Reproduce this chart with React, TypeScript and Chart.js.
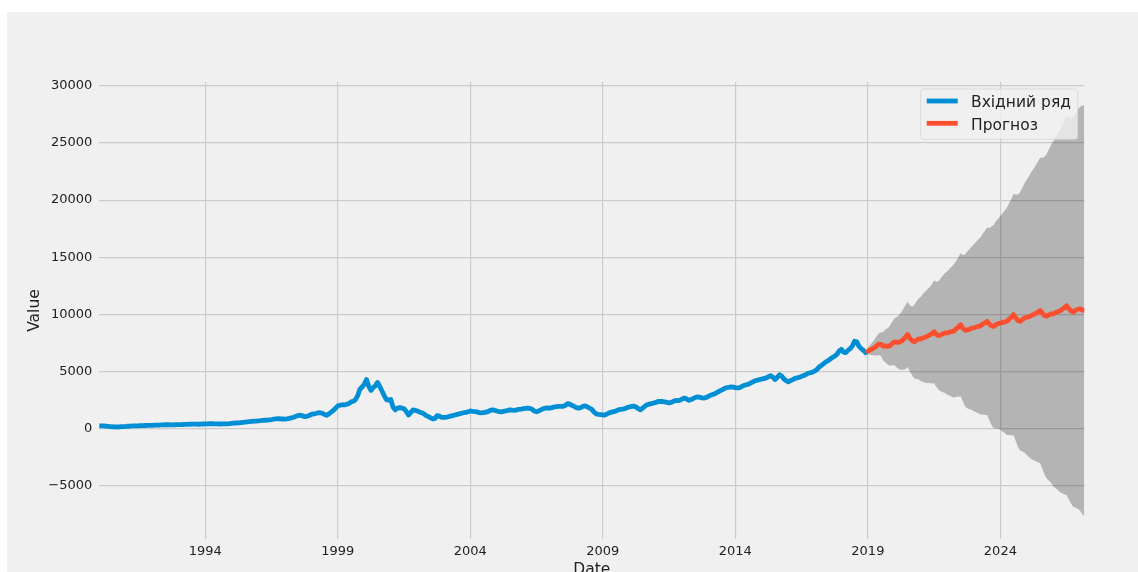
import { useEffect, useRef } from "react";
import { Chart, registerables } from "chart.js";

Chart.register(...registerables);

// Monthly observations, January 1990 – December 2018 (one row per year)
const observedStartYear = 1990;
const observedMonthly: number[] = [
  240, 250, 245, 230, 210, 190, 170, 155, 150, 160, 175, 190,
  200, 215, 230, 240, 250, 255, 260, 270, 275, 280, 285, 290,
  300, 305, 310, 320, 330, 340, 345, 350, 345, 340, 345, 355,
  360, 365, 370, 375, 380, 390, 395, 400, 395, 390, 400, 410,
  420, 430, 440, 435, 425, 420, 415, 410, 415, 420, 430, 440,
  460, 480, 500, 520, 540, 560, 580, 600, 620, 640, 660, 670,
  690, 700, 720, 740, 760, 780, 800, 830, 860, 880, 870, 850,
  830, 860, 900, 950, 1000, 1080, 1150, 1180, 1120, 1060, 1080, 1150,
  1250, 1300, 1330, 1380, 1400, 1350, 1250, 1180, 1300, 1450, 1600, 1800,
  2000, 2050, 2100, 2080, 2150, 2200, 2350, 2400, 2550, 2900, 3450, 3650,
  3900, 4300, 3700, 3350, 3600, 3750, 4050, 3700, 3300, 2900, 2550, 2500,
  2550, 1900, 1650, 1800, 1850, 1800, 1750, 1500, 1200, 1400, 1650, 1600,
  1550, 1450, 1400, 1300, 1150, 1050, 950, 850, 900, 1150, 1100, 1000,
  1000, 1000, 1050, 1100, 1150, 1200, 1250, 1300, 1350, 1400, 1420, 1480,
  1550, 1520, 1500, 1480, 1400, 1380, 1400, 1450, 1500, 1600, 1650, 1620,
  1550, 1500, 1480, 1520, 1550, 1600, 1650, 1620, 1600, 1650, 1700, 1720,
  1750, 1780, 1800, 1780, 1700, 1550, 1480, 1550, 1650, 1750, 1800, 1820,
  1800, 1850, 1900, 1940, 1950, 1950, 1950, 2050, 2200, 2150, 2050, 1950,
  1850, 1800, 1850, 1950, 2000, 1900, 1800, 1700, 1450, 1300, 1250, 1230,
  1200, 1200, 1300, 1400, 1450, 1500, 1550, 1650, 1700, 1720, 1750, 1850,
  1900, 1950, 1980, 1900, 1750, 1650, 1800, 1950, 2100, 2150, 2200, 2250,
  2300, 2380, 2400, 2380, 2350, 2300, 2250, 2300, 2400, 2480, 2450, 2500,
  2600, 2680, 2600, 2480, 2550, 2650, 2750, 2780, 2750, 2700, 2680, 2750,
  2850, 2950, 3000, 3100, 3200, 3300, 3400, 3500, 3600, 3620, 3650, 3640,
  3600, 3560, 3600, 3700, 3800, 3850, 3900, 4000, 4100, 4200, 4250, 4300,
  4350, 4380, 4450, 4550, 4640, 4500, 4300, 4500, 4720, 4600, 4350, 4200,
  4100, 4200, 4300, 4400, 4450, 4500, 4580, 4650, 4750, 4850, 4900, 4950,
  5050, 5200, 5400, 5550, 5700, 5850, 5950, 6100, 6250, 6350, 6500, 6800,
  6950, 6700, 6650, 6850, 7000, 7250, 7650, 7600, 7200, 7000, 6850, 6650,
];

// Monthly forecast, January 2019 – March 2027
const forecastStartYear = 2019;
const forecastMean: number[] = [
  6780, 6900, 6980, 7100, 7250, 7400, 7380, 7220, 7250, 7200, 7260, 7450,
  7600, 7580, 7550, 7650, 7800, 8000, 8250, 7900, 7700, 7600, 7750, 7850,
  7850, 7950, 8000, 8100, 8200, 8300, 8480, 8250, 8150, 8200, 8300, 8380,
  8380, 8450, 8500, 8550, 8750, 8900, 9100, 8800, 8600, 8650, 8700, 8800,
  8830, 8900, 8950, 9000, 9150, 9250, 9400, 9150, 9000, 8950, 9100, 9200,
  9250, 9300, 9350, 9400, 9600, 9750, 9980, 9700, 9450, 9400, 9550, 9700,
  9750, 9800, 9900, 9980, 10100, 10200, 10350, 10100, 9900, 9850, 9950, 10050,
  10050, 10150, 10250, 10300, 10450, 10600, 10760, 10500, 10300, 10200, 10350, 10450,
  10500, 10400, 10350,
];

// Half-width of the forecast confidence interval, per forecast month
const forecastHalfWidth: number[] = [
  250, 420, 560, 700, 850, 950, 1050, 1250, 1450, 1600, 1750, 1900,
  2050, 2200, 2350, 2500, 2650, 2800, 2850, 2900, 3000, 3200, 3400, 3550,
  3700, 3850, 4000, 4100, 4200, 4350, 4500, 4600, 4750, 4950, 5100, 5250,
  5400, 5550, 5700, 5850, 5950, 6100, 6250, 6400, 6650, 6850, 7000, 7150,
  7300, 7450, 7600, 7750, 7900, 8050, 8200, 8400, 8700, 8900, 9050, 9200,
  9350, 9550, 9750, 9950, 10150, 10350, 10550, 10800, 11050, 11300, 11550, 11800,
  12050, 12300, 12550, 12750, 12950, 13150, 13350, 13600, 13900, 14200, 14500, 14800,
  15100, 15350, 15600, 15850, 16100, 16350, 16550, 16700, 16850, 17050, 17250, 17450,
  17650, 17850, 18000,
];

const xTickYears = [1994, 1999, 2004, 2009, 2014, 2019, 2024];
const yTickValues = [-5000, 0, 5000, 10000, 15000, 20000, 25000, 30000];
const yRange = [-9650, 30335];

const seriesLabels = ["Вхідний ряд", "Прогноз"];
const seriesColors = ["#008fd5", "#fc4f30"];
const bandColor = "rgba(0, 0, 0, 0.25)";
const axisTitles = ["Date", "Value"];

const FONT = '"DejaVu Sans", "Liberation Sans", sans-serif';
const TEXT = "#222222";
const GRID = "#cbcbcb";

type Pt = { x: number; y: number };

const monthly = (start: number, values: number[]): Pt[] =>
  values.map((v, i) => ({ x: start + i / 12, y: v }));

// Legend box in the upper-right corner of the plot area
const legendPlugin = {
  id: "forecastLegend",
  afterDatasetsDraw(chart: Chart) {
    const { ctx, chartArea } = chart;
    const w = 157;
    const h = 50.3;
    const right = chartArea.right - 6.6;
    const left = right - w;
    const top = chartArea.top + 7;
    ctx.save();
    ctx.beginPath();
    if ((ctx as any).roundRect) (ctx as any).roundRect(left, top, w, h, 3);
    else ctx.rect(left, top, w, h);
    ctx.fillStyle = "rgba(240, 240, 240, 0.8)";
    ctx.fill();
    ctx.strokeStyle = "rgba(212, 212, 212, 0.8)";
    ctx.lineWidth = 1;
    ctx.stroke();

    const rows = [
      { handleY: top + 12, textY: top + 17.7 },
      { handleY: top + 34.3, textY: top + 41 },
    ];
    ctx.font = `15.5px ${FONT}`;
    ctx.textBaseline = "alphabetic";
    ctx.textAlign = "left";
    rows.forEach((r, i) => {
      ctx.beginPath();
      ctx.moveTo(left + 6, r.handleY);
      ctx.lineTo(left + 37, r.handleY);
      ctx.strokeStyle = seriesColors[i];
      ctx.lineWidth = 4.8;
      ctx.lineCap = "butt";
      ctx.stroke();
      ctx.fillStyle = TEXT;
      ctx.fillText(seriesLabels[i], left + 50.3, r.textY);
    });
    ctx.restore();
  },
};

export default function App() {
  const canvasRef = useRef<HTMLCanvasElement | null>(null);

  useEffect(() => {
    const canvas = canvasRef.current;
    if (!canvas) return;

    const observed = monthly(observedStartYear, observedMonthly);
    const mean = monthly(forecastStartYear, forecastMean);
    const lower = mean.map((p, i) => ({ x: p.x, y: p.y - forecastHalfWidth[i] }));
    const upper = mean.map((p, i) => ({ x: p.x, y: p.y + forecastHalfWidth[i] }));
    const xMax = mean[mean.length - 1].x;

    const lineBase = {
      pointRadius: 0,
      pointHoverRadius: 0,
      tension: 0,
      borderWidth: 4.8,
      borderJoinStyle: "round" as const,
      borderCapStyle: "round" as const,
      fill: false,
    };

    const chart = new Chart(canvas, {
      type: "line",
      data: {
        datasets: [
          {
            label: "lower",
            data: lower,
            borderWidth: 0,
            pointRadius: 0,
            fill: false,
            order: 4,
          },
          {
            label: "upper",
            data: upper,
            borderWidth: 0,
            pointRadius: 0,
            backgroundColor: bandColor,
            fill: "-1",
            order: 3,
          },
          {
            ...lineBase,
            label: seriesLabels[0],
            data: observed,
            borderColor: seriesColors[0],
            order: 2,
          },
          {
            ...lineBase,
            label: seriesLabels[1],
            data: mean,
            borderColor: seriesColors[1],
            order: 1,
          },
        ],
      },
      options: {
        animation: false,
        responsive: false,
        devicePixelRatio: 1,
        parsing: false,
        events: [],
        layout: { padding: { top: 70, right: 53.7, left: 19, bottom: 12.3 } },
        plugins: {
          legend: { display: false },
          tooltip: { enabled: false },
        },
        scales: {
          x: {
            type: "linear",
            min: observedStartYear,
            max: xMax,
            afterBuildTicks: (s: any) => {
              s.ticks = xTickYears.map((v) => ({ value: v }));
            },
            afterFit: (s: any) => {
              s.height = 40.7;
            },
            ticks: {
              callback: (v: any) => String(v),
              font: { family: FONT, size: 13 },
              color: TEXT,
              padding: 5,
              maxRotation: 0,
              autoSkip: false,
            },
            grid: { color: GRID, lineWidth: 1.2, drawTicks: false },
            border: { display: false },
            title: {
              display: true,
              text: axisTitles[0],
              font: { family: FONT, size: 15.5 },
              color: TEXT,
              padding: 0,
            },
          },
          y: {
            type: "linear",
            min: yRange[0],
            max: yRange[1],
            afterBuildTicks: (s: any) => {
              s.ticks = yTickValues.map((v) => ({ value: v }));
            },
            afterFit: (s: any) => {
              s.width = 73.3;
            },
            ticks: {
              callback: (v: any) => (v < 0 ? "\u2212" + Math.abs(v) : String(v)),
              font: { family: FONT, size: 13 },
              color: TEXT,
              padding: 7,
              autoSkip: false,
            },
            grid: { color: GRID, lineWidth: 1.2, drawTicks: false },
            border: { display: false },
            title: {
              display: true,
              text: axisTitles[1],
              font: { family: FONT, size: 15.5 },
              color: TEXT,
              padding: 0,
            },
          },
        },
      },
      plugins: [legendPlugin],
    });

    return () => chart.destroy();
  }, []);

  return (
    <div
      style={{
        position: "fixed",
        left: 7,
        top: 12,
        width: 1131,
        height: 560,
        overflow: "hidden",
        background: "#f0f0f0",
      }}
    >
      <canvas
        ref={canvasRef}
        width={1131}
        height={580}
        style={{ display: "block", width: 1131, height: 580 }}
      />
    </div>
  );
}
